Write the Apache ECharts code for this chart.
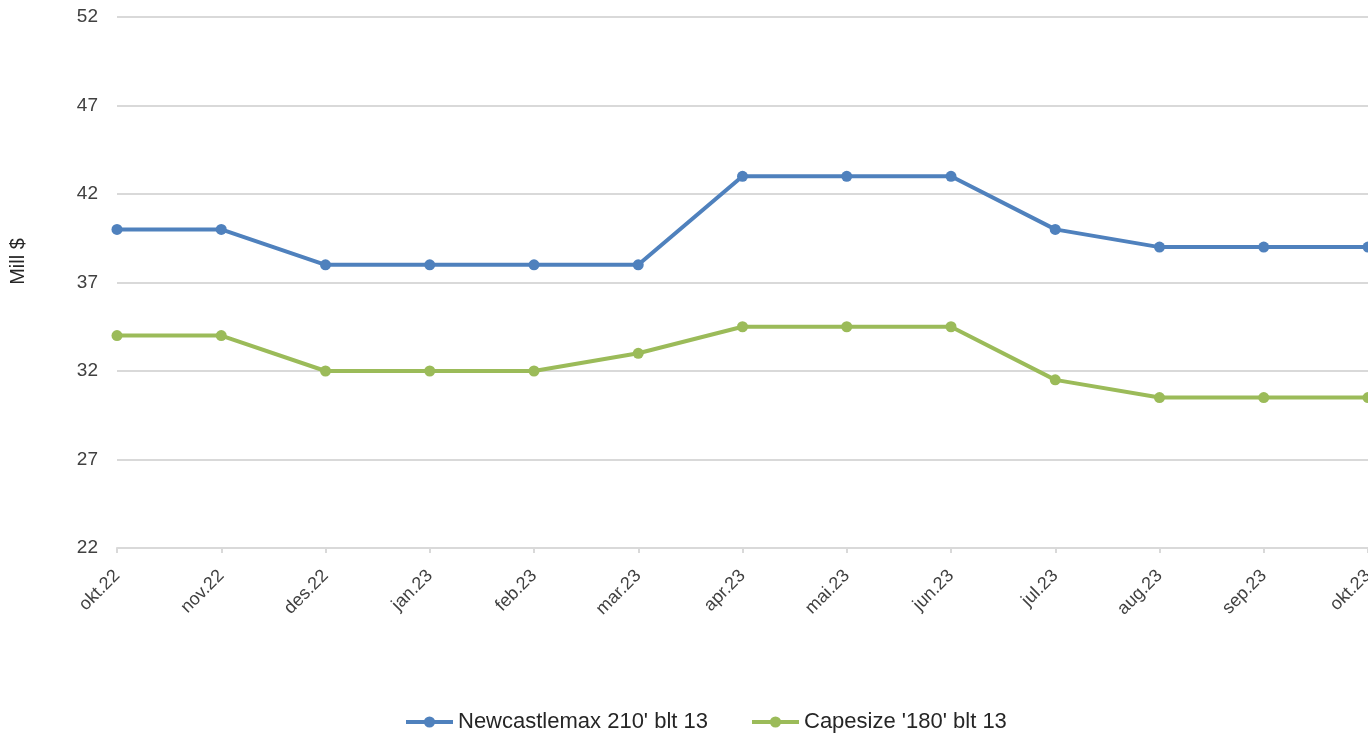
<!DOCTYPE html>
<html>
<head>
<meta charset="utf-8">
<script src="https://cdn.jsdelivr.net/npm/echarts@6/dist/echarts.min.js"></script>
<style>
  html, body { margin: 0; padding: 0; background: #fff; }
  #chart { width: 1368px; height: 736px; }
</style>
</head>
<body>
<div id="chart"></div>
<script>
const months = ['okt.22', 'nov.22', 'des.22', 'jan.23', 'feb.23', 'mar.23', 'apr.23',
  'mai.23', 'jun.23', 'jul.23', 'aug.23', 'sep.23', 'okt.23']
const newcastlemax = [40, 40, 38, 38, 38, 38, 43, 43, 43, 40, 39, 39, 39]
const capesize = [34, 34, 32, 32, 32, 33, 34.5, 34.5, 34.5, 31.5, 30.5, 30.5, 30.5]

const font = 'Liberation Sans, Arial, sans-serif'
const chart = echarts.init(document.getElementById('chart'), null, { devicePixelRatio: 1 })

function lineSeries(name, data, color) {
  return {
    name,
    type: 'line',
    data,
    symbol: 'circle',
    symbolSize: 11,
    lineStyle: { width: 4, color },
    itemStyle: { color },
    animation: false
  }
}

chart.setOption({
  textStyle: { fontFamily: font },
  grid: { left: 117, right: 0, top: 17, bottom: 188, containLabel: false, outerBoundsMode: 'none' },
  legend: {
    top: 711,
    left: 404,
    padding: 0,
    itemWidth: 47,
    itemHeight: 14,
    itemGap: 42,
    lineStyle: { width: 4 },
    textStyle: { fontSize: 22, color: '#262626', fontFamily: font },
    data: ['Newcastlemax 210\' blt 13', 'Capesize \'180\' blt 13']
  },
  xAxis: {
    type: 'category',
    data: months,
    boundaryGap: false,
    axisLine: { lineStyle: { color: '#d9d9d9', width: 2 } },
    axisTick: { show: true, length: 5, alignWithLabel: true, lineStyle: { color: '#d9d9d9', width: 2 } },
    axisLabel: { rotate: 45, fontSize: 18, color: '#404040', margin: 25, interval: 0 }
  },
  yAxis: {
    type: 'value',
    min: 22,
    max: 52,
    interval: 5,
    name: 'Mill $',
    nameLocation: 'middle',
    nameGap: 89,
    nameTextStyle: { fontSize: 20, color: '#262626', padding: [0, 0, 0, 42] },
    axisLine: { show: false },
    axisTick: { show: false },
    axisLabel: { fontSize: 19, color: '#404040', margin: 19 },
    splitLine: { lineStyle: { color: '#d9d9d9', width: 2 } }
  },
  series: [
    lineSeries('Newcastlemax 210\' blt 13', newcastlemax, '#4f81bd'),
    lineSeries('Capesize \'180\' blt 13', capesize, '#9bbb59')
  ]
})
</script>
</body>
</html>
